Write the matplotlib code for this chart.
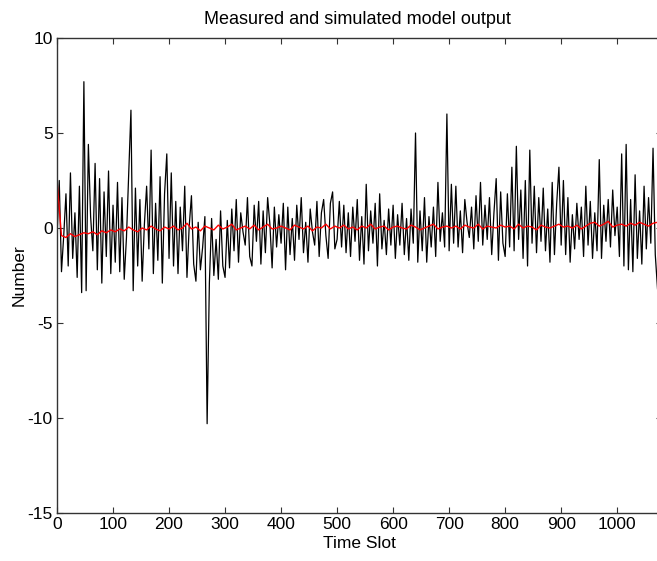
"""
plot.py - Measured and simulated model output
"""

import numpy as np
import matplotlib
matplotlib.use('Agg')
import matplotlib.pyplot as plt

plt.rcParams['font.family'] = ['Liberation Sans', 'DejaVu Sans']
plt.rcParams['axes.unicode_minus'] = False

# Measured output, every 4 time slots (0..1072)
MEASURED = [
    # 0 - 96
    -0.5, 2.5, -2.3, -0.4, 1.8, -2.0, 2.9, -1.6, 0.8, -2.6, 2.2, -3.4, 7.7,
    -3.3, 4.4, 0.6, -1.2, 3.4, -2.2, 2.6, -2.9, 1.9, -1.5, 3.0, -2.4,
    # 100 - 196
    1.2, -1.8, 2.4, -2.3, 1.6, -2.7, -0.5, 2.9, 6.2, -3.3, 2.1, -2.0, 1.5,
    -2.8, 0.2, 2.2, -1.1, 4.1, -2.4, 1.3, -1.7, 2.7, -2.9, 1.8, 3.9,
    # 200 - 296
    -1.6, 2.9, -2.0, 1.4, -2.4, 1.1, -1.2, 2.2, -2.6, 0.1, 1.7, -1.9, -2.8,
    0.3, -2.2, -1.0, 0.6, -10.3, -2.9, 0.5, -2.5, -0.6, -2.7, 0.9, -2.0,
    # 300 - 396
    -2.6, 0.4, -2.1, 1.0, -1.2, 1.5, -1.8, 0.8, -0.2, -0.9, 1.6, -1.5, -2.0,
    1.2, -0.7, 1.4, -1.9, 0.9, -1.3, 1.6, 0.2, -2.1, 1.1, -1.0, 0.7,
    # 400 - 496
    -0.8, 1.3, -2.2, 1.1, -1.4, 0.5, -1.7, 1.2, -0.6, 1.6, -1.3, 0.3, -1.8,
    1.0, -0.2, -0.9, 1.4, -1.5, 0.8, 1.5, -0.4, -1.6, 1.3, 1.9, -1.1,
    # 500 - 596
    -0.6, 1.4, -1.0, 1.2, -1.3, 0.8, -1.5, 1.1, -0.7, 1.5, -1.7, 0.6, -1.9,
    2.3, -1.2, 0.9, -0.8, 1.3, -2.0, 1.8, -1.1, 0.4, -1.4, 1.0, -0.9,
    # 600 - 696
    1.2, -1.6, 0.7, -0.9, 1.3, -1.4, 0.5, -1.7, 1.0, -0.8, 5.0, -1.8, 0.9,
    -1.2, 1.6, -1.8, 0.6, -1.0, 1.1, -1.5, 2.4, -0.7, 0.8, -1.0, 6.0,
    # 700 - 796
    -1.2, 2.3, -0.8, 2.2, -1.0, 0.9, -1.3, 1.5, 0.3, -0.5, 1.1, -1.1, 1.7,
    -0.7, 2.4, -0.9, 1.2, -0.6, 1.6, -1.4, 0.8, 2.6, -1.7, 1.9, -0.8,
    # 800 - 896
    -1.5, 1.8, -1.0, 3.2, -1.2, 4.3, -0.6, 2.0, -1.6, 2.5, -2.0, 4.1, -0.8,
    2.2, -1.3, 1.6, -0.7, 2.1, -1.2, 1.0, -1.8, 2.4, -1.4, 1.3, 3.2,
    # 900 - 996
    -0.9, 2.5, -1.4, 1.6, -1.8, 0.7, -1.1, 1.3, -0.6, 1.1, -1.5, 2.2, -0.9,
    1.4, -1.6, 0.8, -1.2, 3.6, -1.6, 1.2, -0.7, 1.5, -1.0, 2.0, -0.4,
    # 1000 - 1072
    1.1, -1.5, 3.9, -2.0, 4.4, -2.2, 1.5, -2.3, 2.8, -1.6, 0.9, -1.9, 2.2,
    -1.1, 1.6, -0.8, 4.2, -1.4, -3.2,
]
MEASURED_STEP = 4

# Simulated model output, read every 8 time slots (0..1072)
SIMULATED = [
    2.5,
    -0.4, -0.5, -0.3, -0.45, -0.35, -0.25,
    -0.3, -0.2, -0.35, -0.15, -0.25, -0.1,
    -0.2, -0.05, -0.15, 0.05, -0.1, -0.2, 0.0, -0.1, 0.1, -0.05, -0.15, 0.05, -0.05,
    0.1, -0.1, 0.0, 0.25, -0.05, 0.05, -0.15, 0.1, 0.0, -0.1, 0.15, -0.05,
    0.05, 0.2, -0.1, 0.0, 0.1, -0.05, 0.15, -0.1, 0.05, 0.2, -0.05, 0.0, 0.1,
    0.0, -0.1, 0.15, 0.05, -0.05, 0.1, -0.15, 0.05, 0.0, 0.2, -0.05, 0.1,
    0.0, 0.15, -0.05, 0.05, -0.1, 0.1, 0.0, 0.2, -0.05, 0.05, 0.1, -0.1, 0.05,
    0.1, 0.0, -0.05, 0.15, 0.05, -0.1, 0.0, 0.1, 0.2, -0.05, 0.05, 0.1,
    0.0, 0.1, -0.05, 0.15, 0.05, 0.0, 0.2, -0.05, 0.1, 0.05, 0.0, 0.15, 0.05,
    0.1, -0.05, 0.2, 0.0, 0.1, 0.05, -0.1, 0.15, 0.05, 0.0, 0.1, 0.2,
    0.05, 0.1, 0.0, 0.15, -0.05, 0.1, 0.25, 0.3, 0.1, 0.2, 0.35, 0.05, 0.15,
    0.2, 0.1, 0.25, 0.15, 0.3, 0.2, 0.1, 0.25, 0.3,
]
SIMULATED_STEP = 8

X_TICKS = list(range(0, 1001, 100))
Y_TICKS = [-15, -10, -5, 0, 5, 10]

fig = plt.figure(figsize=(6.57, 5.61), dpi=100)
# axes run slightly past the right edge of the picture, as in the reference
ax = fig.add_axes([57 / 657, 48 / 561, 605 / 657, 475 / 561])

x_meas = np.arange(len(MEASURED)) * MEASURED_STEP
x_sim = np.arange(len(SIMULATED)) * SIMULATED_STEP

ax.plot(x_meas, MEASURED, color='black', linewidth=0.9)
ax.plot(x_sim, SIMULATED, color='red', linewidth=1.0)

ax.set_xlim(0, 1080)
ax.set_ylim(-15, 10)
ax.set_xticks(X_TICKS)
ax.set_yticks(Y_TICKS)
ax.tick_params(direction='in', length=4, top=True, right=True,
               labelsize=12.5, color='#333333', pad=3)
for sp in ax.spines.values():
    sp.set_color('#333333')
    sp.set_linewidth(1.0)

ax.set_xlabel("Time Slot", fontsize=12.5, labelpad=3)
ax.set_ylabel("Number", fontsize=12.5, labelpad=1)
fig.text(357 / 657, 1 - 20 / 561, "Measured and simulated model output",
         ha='center', va='center', fontsize=13)

fig.savefig("out.png", dpi=100)
plt.close(fig)
